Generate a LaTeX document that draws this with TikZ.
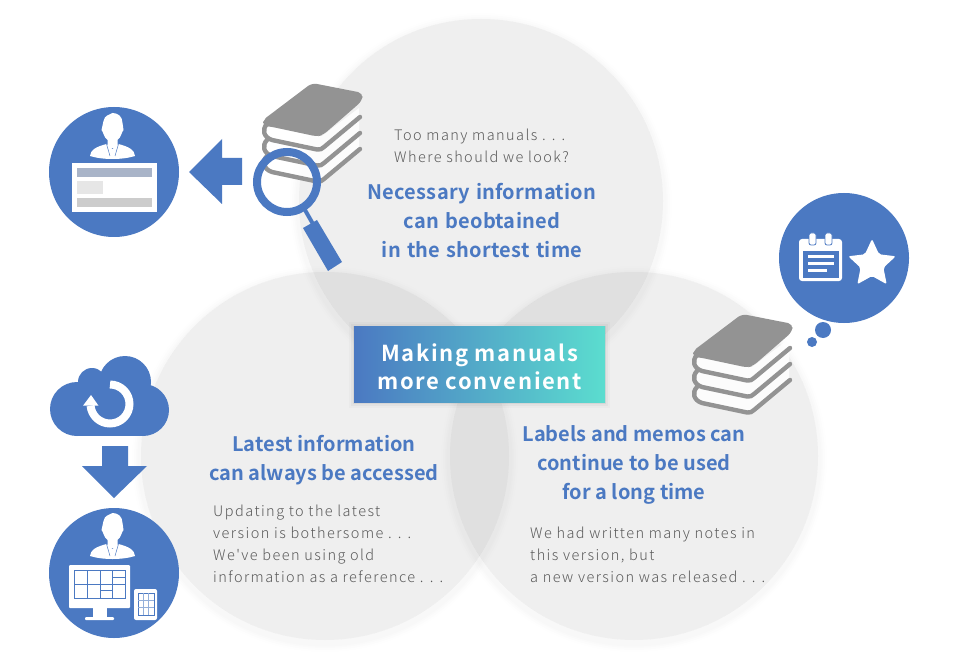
\documentclass[tikz,border=0pt]{standalone}
\usepackage{fontspec}
\setmainfont{Noto Sans CJK JP}
\newfontfamily\bodyf[LetterSpace=10]{Noto Sans CJK JP Light}
\newfontfamily\headf[LetterSpace=0.1]{Noto Sans CJK JP Bold}
\newfontfamily\headwf[LetterSpace=1.2,WordSpace=1.3]{Noto Sans CJK JP Bold}
\newfontfamily\boxf[LetterSpace=7.5]{Noto Sans CJK JP Bold}
\definecolor{bl}{HTML}{4B79C2}
\definecolor{gb}{HTML}{939393}
\definecolor{tx}{HTML}{5A5A5A}
\definecolor{ta}{HTML}{5BDDCF}
\definecolor{barA}{HTML}{A9B4C8}
\definecolor{barB}{HTML}{E6E6E6}
\definecolor{barC}{HTML}{CCCCCC}
\tikzset{x=1pt,y=-1pt,
  bigc/.style={fill=black,fill opacity=0.062,draw=none},
  body/.style={font=\bodyf\fontsize{14.5}{22}\selectfont,text=tx,align=left,anchor=north west,inner sep=0},
  head/.style={font=\headf\fontsize{20}{29}\selectfont,text=bl,align=center,inner sep=0},
  headw/.style={head,font=\headwf\fontsize{20}{29}\selectfont},
  bub/.style={fill=bl,draw=none},
  band/.style={gb,line width=4.4pt,line cap=round,line join=round},
  arrowblue/.style={fill=bl,draw=none}}
% soft shadow: rings outside the circle only
\newcommand{\shadowc}[3]{%
  \foreach \r/\o in {9/0.005,7/0.006,5/0.007,3.5/0.008}{\fill[black,fill opacity=\o,even odd rule] (#1,#2+3) circle ({#3+\r}) (#1,#2) circle (#3);}}
\newcommand{\person}[2]{\begin{scope}[shift={(#1,#2)}]
  \fill[white] (-9,-38) .. controls (-8,-44) and (-3,-44) .. (0,-46) .. controls (5,-46) and (10,-43) .. (10,-36)
     -- (11,-29) .. controls (9,-27) and (9,-22) .. (5,-19) -- (5,-11) -- (-5,-11) -- (-5,-19) .. controls (-9,-22) and (-9,-27) .. (-11,-29) -- cycle;
  \fill[white] (-22.5,-3) .. controls (-22,-9) and (-17,-12) .. (-6,-15) -- (0,-10) -- (6,-15) .. controls (17,-12) and (22,-9) .. (22.5,-3) .. controls (10,1) and (-10,1) .. (-22.5,-3) -- cycle;
  \draw[bl,line width=0.5pt] (-6,-15) -- (-2.5,-3) (6,-15) -- (2.5,-3);
  \end{scope}}
\newcommand{\bookstack}[2]{\begin{scope}[shift={(#1,#2)}]
  \fill[white,fill opacity=0.85] (5,40) -- (60,52) -- (97,24) -- (97,66) -- (58,97) -- (5,86) -- cycle;
  \foreach \d in {0,16,32}{
   \draw[band] (98,33+\d) -- (62,63+\d) .. controls (60,65+\d) and (58,66+\d) .. (55,65.5+\d) -- (10,56+\d) .. controls (1,53+\d) and (0,45+\d) .. (5,40+\d);}
  \fill[gb,rounded corners=5pt] (1,36) -- (50,-1) -- (101,9) -- (100,17) -- (61,51) -- (55,52.5) -- (8,42.5) -- (1,42) -- cycle;
  \end{scope}}
\begin{document}
\begin{tikzpicture}
\useasboundingbox (0,0) rectangle (960,660);
\fill[white] (0,0) rectangle (960,660);
% big circles
\fill[bigc] (481,201) circle (182);
\fill[bigc] (325,456) circle (184);
\fill[bigc] (634,456) circle (184);
\shadowc{481}{201}{182}
\shadowc{325}{456}{184}
\shadowc{634}{456}{184}
% central box
\foreach \r/\o in {5/0.02,3/0.03,1/0.05}{\fill[black,fill opacity=\o] (354-\r,326-\r+1) rectangle (605+\r,402+\r+1);}
\node[minimum width=251pt,minimum height=76pt,inner sep=0,left color=bl,right color=ta] (titlebox) at (479.5,364) {};
\node[inner sep=0,text=white,align=center,font=\boxf\fontsize{22}{28}\selectfont] (title) at (479.5,366.5) {Making manuals\\more convenient};
% texts
\node[body] (t1) at (394,129) {Too many manuals . . .\\Where should we look?};
\node[headw] (h1) at (482,220.5) {Necessary information\\can beobtained\\in the shortest time};
\node[head] (h2) at (324,460) {Latest information\\can always be accessed};
\node[body] (t2) at (213,505) {Updating to the latest\\version is bothersome . . .\\We've been using old\\information as a reference . . .};
\node[head] (h3) at (634,465) {Labels and memos can\\continue to be used\\for a long time};
\node[body] (t3) at (530,527) {We had written many notes in\\this version, but\\a new version was released . . .};
% top-left circle with person and card
\fill[bub] (114,172) circle (65);
\person{112.5}{159}
\fill[white] (72,163) rectangle (157,212);
\fill[barA] (77,168) rectangle (152,177);
\fill[barB] (77,181) rectangle (103,194);
\fill[barC] (77,198) rectangle (152,207);
% left arrow
\fill[arrowblue] (189,172) -- (222,139) -- (222,158) -- (242,158) -- (242,185) -- (222,185) -- (222,204) -- cycle;
% top book + magnifier
\bookstack{262}{84}
\draw[bl,line width=8pt] (287,182) circle (30);
\draw[bl,line width=4pt] (305,210) -- (313,224);
\fill[bl] (303,228) -- (317,220) -- (342,262) -- (328,271) -- cycle;
% cloud
\fill[bl] (77,409) circle (27);
\fill[bl] (92,382) circle (14);
\fill[bl] (125,382) circle (26);
\fill[bl] (143,410) circle (26);
\fill[bl] (77,395) rectangle (143,436);
\fill[bl] (92,385) rectangle (125,400);
\draw[white,line width=8pt] (110,384.5) arc[start angle=-90,end angle=175,radius=19.5];
\fill[white] (83,405.7) -- (98.5,405.7) -- (91,395) -- cycle;
% down arrow
\fill[arrowblue] (102,446) -- (128,446) -- (128,466) -- (147,466) -- (114,498) -- (82,466) -- (102,466) -- cycle;
% bottom-left circle
\fill[bub] (114,573) circle (65);
\person{112.5}{559}
\fill[white,rounded corners=1pt] (69,565) rectangle (130,608);
\fill[white] (93,607) rectangle (107,618);
\fill[white,rounded corners=1pt] (85,617) rectangle (114,620);
\draw[bl,line width=0.9pt] (74.5,570.5) rectangle (125,598);
\draw[bl,line width=0.7pt] (74.5,584) -- (125,584) (87.5,570.5) -- (87.5,598) (100,570.5) -- (100,598) (112.5,570.5) -- (112.5,598) (112.5,577) -- (125,577) (100,590) -- (112.5,590);
\fill[white,rounded corners=2pt] (134,589) rectangle (157,620);
\draw[bl,line width=0.9pt] (138,593) rectangle (154,615);
\draw[bl!60,line width=0.4pt] (143.3,593) -- (143.3,615) (148.6,593) -- (148.6,615) (138,600) -- (154,600) (138,607.5) -- (154,607.5);
% thought bubble
\fill[bub] (844,258) circle (65);
\fill[bub] (823,330) circle (8);
\fill[bub] (812,342) circle (5);
% calendar
\fill[white,rounded corners=3pt] (799,239) rectangle (842,281);
\fill[bl] (803,251) rectangle (839,278);
\fill[white] (808,255) rectangle (834,258);
\fill[white] (808,262) rectangle (834,265);
\fill[white] (808,269) rectangle (827,272);
\draw[bl,line width=0.8pt,fill=white,rounded corners=2pt] (809,233) rectangle (816,245);
\draw[bl,line width=0.8pt,fill=white,rounded corners=2pt] (825,233) rectangle (832,245);
% star
\fill[white,rounded corners=2pt,shift={(872,264)}] (-90:25) -- (-54:12) -- (-18:25) -- (18:12) -- (54:25) -- (90:12) -- (126:25) -- (162:12) -- (198:25) -- (234:12) -- cycle;
% right book
\bookstack{692}{315}
\end{tikzpicture}
\end{document}
